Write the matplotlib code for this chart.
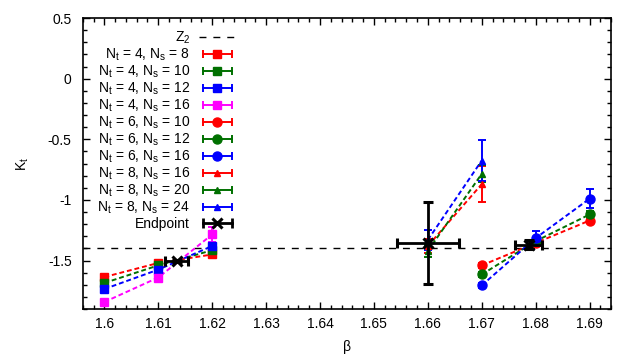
import matplotlib
matplotlib.use("Agg")
from matplotlib import pyplot as plt
from matplotlib.lines import Line2D
from matplotlib.legend_handler import HandlerLine2D, HandlerTuple
from matplotlib.ticker import MultipleLocator, FuncFormatter

plt.rcParams['font.family'] = ['Liberation Sans', 'DejaVu Sans']
plt.rcParams['mathtext.default'] = 'regular'
plt.rcParams['axes.unicode_minus'] = False
plt.rcParams['font.size'] = 10

# 数据
z2 = -1.4

beta_nt4 = [1.60, 1.61, 1.62]
nt4_ns8 = [-1.636, -1.52, -1.45]
nt4_ns8_err = [0.01, 0.01, 0.015]
nt4_ns10 = [-1.685, -1.54, -1.415]
nt4_ns10_err = [0.01, 0.01, 0.015]
nt4_ns12 = [-1.735, -1.575, -1.38]
nt4_ns12_err = [0.01, 0.015, 0.02]
nt4_ns16 = [-1.842, -1.64, -1.285]
nt4_ns16_err = [0.015, 0.03, 0.065]

beta_nt6 = [1.67, 1.68, 1.69]
nt6_ns10 = [-1.54, -1.355, -1.17]
nt6_ns10_err = [0.02, 0.02, 0.02]
nt6_ns12 = [-1.615, -1.34, -1.12]
nt6_ns12_err = [0.02, 0.03, 0.03]
nt6_ns16 = [-1.705, -1.315, -0.99]
nt6_ns16_err = [0.02, 0.06, 0.08]

beta_nt8 = [1.66, 1.67]
nt8_ns16 = [-1.38, -0.87]
nt8_ns16_err = [0.06, 0.15]
nt8_ns20 = [-1.42, -0.785]
nt8_ns20_err = [0.05, 0.07]
nt8_ns24 = [-1.33, -0.675]
nt8_ns24_err = [0.08, 0.17]

end_beta = [1.6134, 1.66, 1.6787]
end_beta_err = [0.0022, 0.0057, 0.0025]
end_k = [-1.505, -1.355, -1.368]
end_k_err = [0.01, 0.335, 0.04]

red = '#ff0000'
green = '#007000'
blue = '#0000ff'
magenta = '#ff00ff'

series = [
    ('N$_t$ = 4, N$_s$ = 8', beta_nt4, nt4_ns8, nt4_ns8_err, red, 's', 6),
    ('N$_t$ = 4, N$_s$ = 10', beta_nt4, nt4_ns10, nt4_ns10_err, green, 's', 6),
    ('N$_t$ = 4, N$_s$ = 12', beta_nt4, nt4_ns12, nt4_ns12_err, blue, 's', 6),
    ('N$_t$ = 4, N$_s$ = 16', beta_nt4, nt4_ns16, nt4_ns16_err, magenta, 's', 6),
    ('N$_t$ = 6, N$_s$ = 10', beta_nt6, nt6_ns10, nt6_ns10_err, red, 'o', 6.5),
    ('N$_t$ = 6, N$_s$ = 12', beta_nt6, nt6_ns12, nt6_ns12_err, green, 'o', 6.5),
    ('N$_t$ = 6, N$_s$ = 16', beta_nt6, nt6_ns16, nt6_ns16_err, blue, 'o', 6.5),
    ('N$_t$ = 8, N$_s$ = 16', beta_nt8, nt8_ns16, nt8_ns16_err, red, '^', 5),
    ('N$_t$ = 8, N$_s$ = 20', beta_nt8, nt8_ns20, nt8_ns20_err, green, '^', 5),
    ('N$_t$ = 8, N$_s$ = 24', beta_nt8, nt8_ns24, nt8_ns24_err, blue, '^', 5),
]

fig = plt.figure(figsize=(6.32, 3.54), dpi=100)
ax = fig.add_axes([0.131, 0.127, 0.836, 0.822])

ax.axhline(z2, color='black', linestyle=(0, (5, 5)), linewidth=1)

handles = [Line2D([], [], color='black', linestyle=(0, (5, 5)), linewidth=1)]
labels = ['Z$_2$']
handler_map = {}

for label, x, y, err, color, marker, ms in series:
    ax.plot(x, y, color=color, linestyle=(0, (2.5, 1.5)), linewidth=1.4)
    ax.errorbar(x, y, yerr=err, color=color, fmt=marker, markersize=ms,
                elinewidth=1.4, capsize=3, capthick=1.4)
    cap = Line2D([], [], color=color, linewidth=1.4, marker='|',
                 markersize=6, markeredgewidth=1.4)
    mk = Line2D([], [], color=color, linestyle='none', marker=marker,
                markersize=ms)
    handler_map[cap] = HandlerLine2D(numpoints=2)
    handles.append((cap, mk))
    labels.append(label)

# 端点
ax.errorbar(end_beta, end_k, xerr=end_beta_err, yerr=end_k_err, color='black',
            fmt='x', markersize=7, markeredgewidth=2.2, elinewidth=2,
            capsize=3.5, capthick=2, zorder=5)
cap = Line2D([], [], color='black', linewidth=2, marker='|',
             markersize=7, markeredgewidth=2)
mk = Line2D([], [], color='black', linestyle='none', marker='x',
            markersize=7, markeredgewidth=2.2)
handler_map[cap] = HandlerLine2D(numpoints=2)
handles.append((cap, mk))
labels.append('Endpoint')

handler_map[tuple] = HandlerTuple(ndivide=1, pad=0)

ax.legend(handles, labels, handler_map=handler_map, loc='upper right',
          bbox_to_anchor=(236 / 632, 1 - 30 / 354),
          bbox_transform=fig.transFigure, frameon=False, markerfirst=False,
          borderpad=0, borderaxespad=0, handlelength=2.7,
          handletextpad=0.6, labelspacing=0.04, fontsize=10)

ax.set_xlim(1.596, 1.694)
ax.set_ylim(-1.9, 0.5)
ax.xaxis.set_major_locator(MultipleLocator(0.01))
ax.xaxis.set_minor_locator(MultipleLocator(0.002))
ax.yaxis.set_major_locator(MultipleLocator(0.5))
ax.yaxis.set_minor_locator(MultipleLocator(0.1))
fmt = FuncFormatter(lambda v, p: '%g' % round(v, 4))
ax.xaxis.set_major_formatter(fmt)
ax.yaxis.set_major_formatter(fmt)
ax.tick_params(which='both', direction='in', top=True, right=True)
ax.tick_params(which='major', length=5, width=1)
ax.tick_params(which='minor', length=3, width=1)
ax.tick_params(axis='x', pad=6)
ax.tick_params(axis='y', pad=8)
for s in ax.spines.values():
    s.set_linewidth(1.2)

ax.set_xlabel('β', labelpad=6)
ax.set_ylabel('K$_t$', labelpad=12)

fig.savefig('out.png', dpi=100)
